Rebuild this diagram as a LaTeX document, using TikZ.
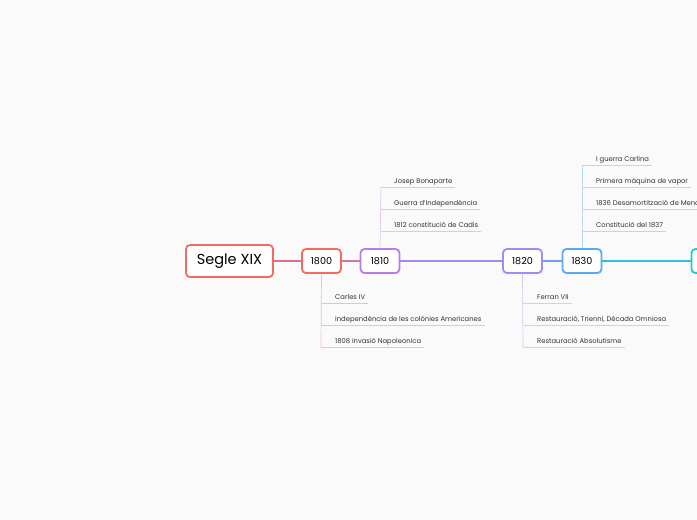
\documentclass[tikz,border=0pt]{standalone}
\usepackage{fontspec}
\setmainfont{Poppins}
\usepackage{tikz}
\usetikzlibrary{positioning, calc, shadows}

\definecolor{c1800}{HTML}{F26B62}
\definecolor{c1810}{HTML}{B67DE9}
\definecolor{c1820}{HTML}{9C8EF2}
\definecolor{c1830}{HTML}{58AAF4}
\definecolor{c1840}{HTML}{1ECAD2}
\definecolor{bgcol}{HTML}{FAFAFA}

\tikzset{
  box/.style={draw, line width=1.8pt, rounded corners=4pt, fill=white,
    minimum width=39pt, minimum height=24pt, inner sep=0pt, font=\fontsize{9.6}{9.6}\selectfont,
    drop shadow={opacity=0.12, shadow xshift=0pt, shadow yshift=-1pt}},
  item/.style={anchor=base west, inner sep=0pt, font=\fontsize{6.8}{6.8}\selectfont, text=black!80},
  twig/.style={line width=0.7pt}
}

\begin{document}
\begin{tikzpicture}[x=1pt,y=-1pt]
\fill[bgcol] (0,0) rectangle (697,520);
\useasboundingbox (0,0) rectangle (697,520);
\clip (0,0) rectangle (697,520);

% main line
\node[box, draw=c1800, minimum width=87pt, minimum height=32pt, font=\fontsize{14.5}{14.5}\selectfont] (segle) at (229.5,261) {Segle XIX};
\node[box, draw=c1800] (y1800) at (321.5,261) {1800};
\node[box, draw=c1810] (y1810) at (380,261) {1810};
\node[box, draw=c1820] (y1820) at (522.5,261) {1820};
\node[box, draw=c1830] (y1830) at (582,261) {1830};
\node[box, draw=c1840] (y1840) at (711,261) {};

\draw[c1800!70!c1810, line width=1.2pt] (segle) -- (y1800);
\draw[c1800!40!c1810, line width=1.2pt] (y1800) -- (y1810);
\draw[c1810!30!c1820, line width=1.2pt] (y1810) -- (y1820);
\draw[c1820!40!c1830, line width=1.2pt] (y1820) -- (y1830);
\draw[c1830!30!c1840, line width=1.2pt] (y1830) -- (y1840);

% 1800 below
\coordinate (t1800) at (321,347);
\draw[twig, c1800!45] (y1800.south) -- (t1800);
\foreach \y/\t/\n in {303/Carles IV/a, 325/independència de les colònies Americanes/b, 347/1808 invasió Napoleonica/c} {
  \node[item] (p1800\n) at (335,\y-4) {\t};
  \draw[twig, c1800!45] (321,\y) -- ($(p1800\n.east |- 0,\y)+(3,0)$);
}

% 1810 above
\coordinate (t1810) at (381,187);
\draw[twig, c1810!45] (y1810.north) -- (t1810);
\foreach \y/\t/\n in {187/Josep Bonaparte/a, 209/Guerra d'Independència/b, 231/1812 constitució de Cadis/c} {
  \node[item] (p1810\n) at (394,\y-4) {\t};
  \draw[twig, c1810!45] (381,\y) -- ($(p1810\n.east |- 0,\y)+(3,0)$);
}

% 1820 below
\coordinate (t1820) at (523,347);
\draw[twig, c1820!45] (y1820.south) -- (t1820);
\foreach \y/\t/\n in {303/Ferran VII/a, 325/{Restauració, Trienni, Dècada Omniosa}/b, 347/Restauració Absolutisme/c} {
  \node[item] (p1820\n) at (537,\y-4) {\t};
  \draw[twig, c1820!45] (523,\y) -- ($(p1820\n.east |- 0,\y)+(3,0)$);
}

% 1830 above
\coordinate (t1830) at (582,165);
\draw[twig, c1830!45] (y1830.north) -- (t1830);
\foreach \y/\t/\n in {165/I guerra Carlina/a, 187/Primera màquina de vapor/b, 209/1836 Desamortització de Mendizábal/c, 231/Constitució del 1837/d} {
  \node[item] (p1830\n) at (596,\y-4) {\t};
  \draw[twig, c1830!45] (582,\y) -- ($(p1830\n.east |- 0,\y)+(3,0)$);
}
\end{tikzpicture}
\end{document}
